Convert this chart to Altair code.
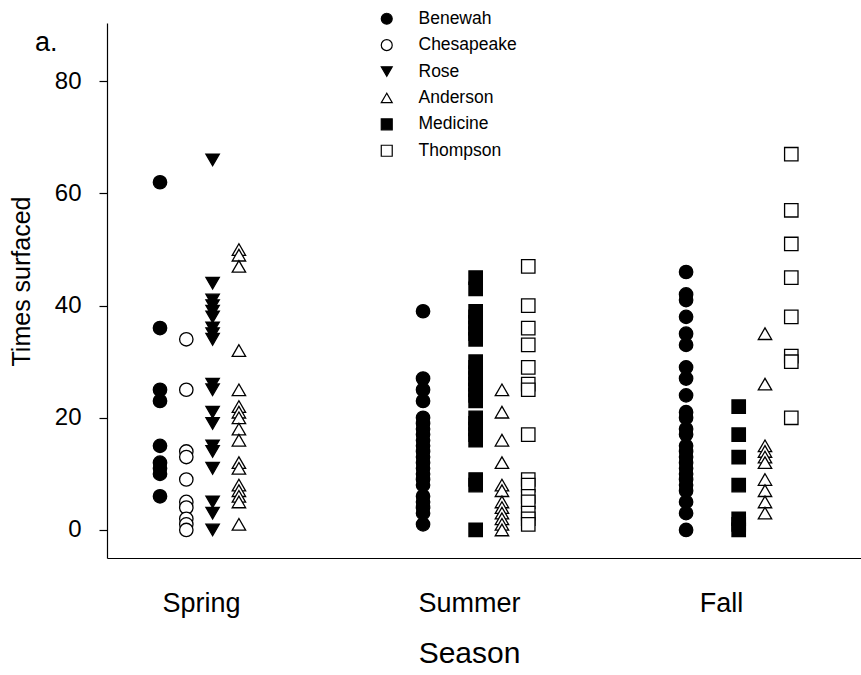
import altair as alt
import pandas as pd

sites = ["Benewah", "Chesapeake", "Rose", "Anderson", "Medicine", "Thompson"]
shapes = ["circle", "circle", "triangle-down", "triangle-up", "square", "square"]
fills = ["black", "white", "black", "white", "black", "white"]
strokes = ["black"] * 6
seasons = ["Spring", "Summer", "Fall"]
season_base = [0, 10, 20]
season_label_pos = [1.56, 11.75, 21.33]
site_slot = {"Benewah": 0, "Chesapeake": 1, "Rose": 2, "Medicine": 2, "Anderson": 3, "Thompson": 4}

spring_benewah = [62, 36, 25, 23, 15, 12, 11, 10, 6]
spring_chesapeake = [34, 25, 14, 13, 9, 5, 4, 2, 1, 0]
spring_rose = [66, 44, 41, 40, 39, 38, 36, 35, 34, 26, 25, 21, 19, 15, 14, 11, 5, 3, 0]
spring_anderson = [50, 49, 47, 32, 25, 22, 21, 20, 18, 16, 12, 11, 8, 7, 6, 5, 1]

summer_benewah = [39, 27, 25, 23, 20, 19, 18, 17, 16, 15, 14, 13, 12, 11, 10, 9, 8, 6, 5, 4, 3, 1]
summer_medicine = [45, 43, 39, 38, 37, 36, 35, 34, 30, 29, 28, 27, 26, 25, 24, 23,
                   20, 19, 18, 17, 16, 9, 8, 0]
summer_anderson = [25, 21, 16, 12, 8, 7, 5, 4, 3, 2, 1, 0]
summer_thompson = [47, 40, 36, 33, 29, 26, 25, 17, 9, 8, 6, 5, 3, 2, 1]

fall_benewah = [46, 42, 41, 38, 35, 33, 29, 27, 24, 21, 20, 18, 17, 15, 14, 13, 12, 11,
                10, 9, 8, 7, 5, 3, 0]
fall_medicine = [22, 17, 13, 8, 2, 1, 0]
fall_anderson = [35, 26, 15, 14, 13, 12, 9, 7, 5, 3]
fall_thompson = [67, 57, 51, 45, 38, 31, 30, 20]

groups = [
    ("Spring", "Benewah", spring_benewah),
    ("Spring", "Chesapeake", spring_chesapeake),
    ("Spring", "Rose", spring_rose),
    ("Spring", "Anderson", spring_anderson),
    ("Summer", "Benewah", summer_benewah),
    ("Summer", "Medicine", summer_medicine),
    ("Summer", "Anderson", summer_anderson),
    ("Summer", "Thompson", summer_thompson),
    ("Fall", "Benewah", fall_benewah),
    ("Fall", "Medicine", fall_medicine),
    ("Fall", "Anderson", fall_anderson),
    ("Fall", "Thompson", fall_thompson),
]

rows = []
for season, site, vals in groups:
    base = season_base[seasons.index(season)]
    for v in vals:
        rows.append({"season": season, "site": site, "slot": base + site_slot[site], "value": v})
df = pd.DataFrame(rows)

label_map = "{" + ",".join(f"'{p}':'{s}'" for p, s in zip(season_label_pos, seasons)) + "}"

FONT = "Liberation Sans"

legend_props = dict(title=None, orient="none", legendX=271, legendY=-13,
                    labelFontSize=17.5, labelFont=FONT, labelColor="black",
                    symbolSize=120, symbolStrokeWidth=1.2,
                    rowPadding=7.4, labelOffset=23, padding=0)

points = alt.Chart(df).mark_point(filled=False, strokeWidth=1.3, opacity=1, size=180).encode(
    x=alt.X("slot:Q",
            scale=alt.Scale(domain=[-2.015, 26.65], nice=False, zero=False),
            axis=alt.Axis(values=season_label_pos, ticks=False, grid=False,
                          labelExpr=f"{label_map}[toString(datum.value)]",
                          labelFontSize=27, labelPadding=32, labelFont=FONT, labelColor="black",
                          domainColor="black", domainWidth=1.2,
                          title="Season", titleFontSize=30, titleFont=FONT, titleFontWeight="normal",
                          titlePadding=22, titleColor="black", titleX=362, titleAnchor="start",
                          titleAlign="center")),
    y=alt.Y("value:Q",
            scale=alt.Scale(domain=[-5, 90.4], nice=False, zero=False),
            axis=alt.Axis(values=[0, 20, 40, 60, 80], grid=False, tickSize=8, tickColor="black",
                          tickWidth=1.2, domainColor="black", domainWidth=1.2,
                          labelFontSize=24, labelFont=FONT, labelColor="black", labelPadding=18,
                          title="Times surfaced", titleFontSize=25, titleFont=FONT,
                          titleFontWeight="normal", titlePadding=20, titleColor="black",
                          titleY=258, titleAnchor="start", titleAlign="center")),
    shape=alt.Shape("site:N", scale=alt.Scale(domain=sites, range=shapes), legend=alt.Legend(**legend_props)),
    fill=alt.Fill("site:N", scale=alt.Scale(domain=sites, range=fills), legend=alt.Legend(**legend_props)),
    stroke=alt.Stroke("site:N", scale=alt.Scale(domain=sites, range=strokes), legend=alt.Legend(**legend_props)),
)

label_a = alt.Chart(pd.DataFrame({"t": ["a."]})).mark_text(
    fontSize=27, font=FONT, color="black", align="left", baseline="middle"
).encode(text="t:N", x=alt.value(-72), y=alt.value(20))

chart = alt.layer(points, label_a).properties(
    width=754, height=535,
    autosize=alt.AutoSizeParams(type="none"),
    padding={"left": 107, "top": 23, "right": 0, "bottom": 117},
).configure_view(stroke=None)

chart.save("out.html", embed_options={"renderer": "svg", "actions": False})
